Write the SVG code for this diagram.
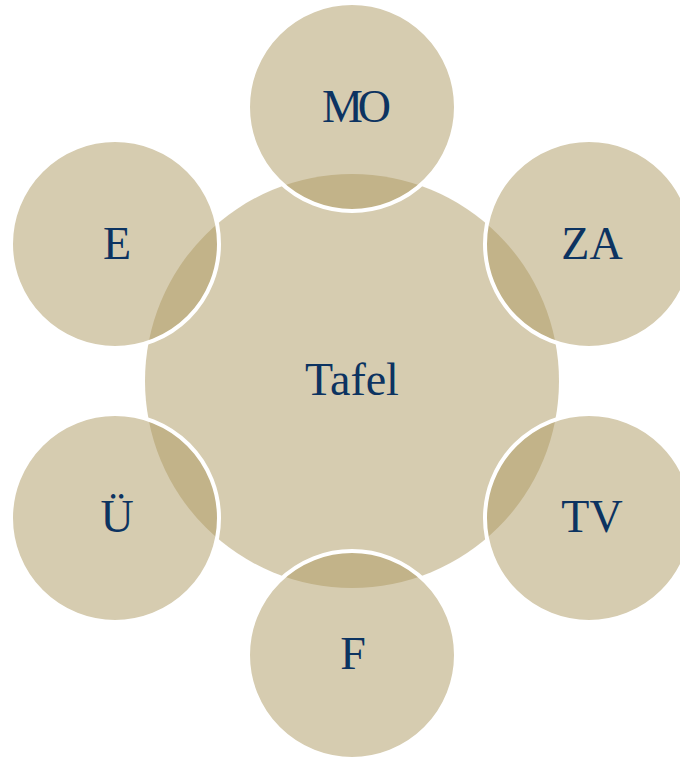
<svg xmlns="http://www.w3.org/2000/svg" width="680" height="757" viewBox="0 0 680 757">
<style>
.hub{fill:#ad9961;fill-opacity:0.5}
.sat{fill:#ad9961;fill-opacity:0.5;stroke:#ffffff;stroke-width:4}
.lbl{font-family:"Liberation Serif","Times New Roman",serif;font-size:46px;fill:#0c3361;text-anchor:middle}
</style>
<rect width="680" height="757" fill="#ffffff"/>
<g id="connectors"/>
<g id="hub"><circle class="hub" cx="352" cy="381" r="207"/><text class="lbl" x="352" y="395">Tafel</text></g>
<g id="mo"><circle class="sat" cx="352" cy="107" r="104"/><text class="lbl" x="354" y="122" letter-spacing="-5">MO</text></g>
<g id="za"><circle class="sat" cx="589" cy="244" r="104"/><text class="lbl" x="592" y="259">ZA</text></g>
<g id="tv"><circle class="sat" cx="589" cy="518" r="104"/><text class="lbl" x="592" y="532">TV</text></g>
<g id="f"><circle class="sat" cx="352" cy="655" r="104"/><text class="lbl" x="353" y="669">F</text></g>
<g id="u"><circle class="sat" cx="115" cy="518" r="104"/><text class="lbl" x="117" y="532">Ü</text></g>
<g id="e"><circle class="sat" cx="115" cy="244" r="104"/><text class="lbl" x="117" y="259">E</text></g>
</svg>
